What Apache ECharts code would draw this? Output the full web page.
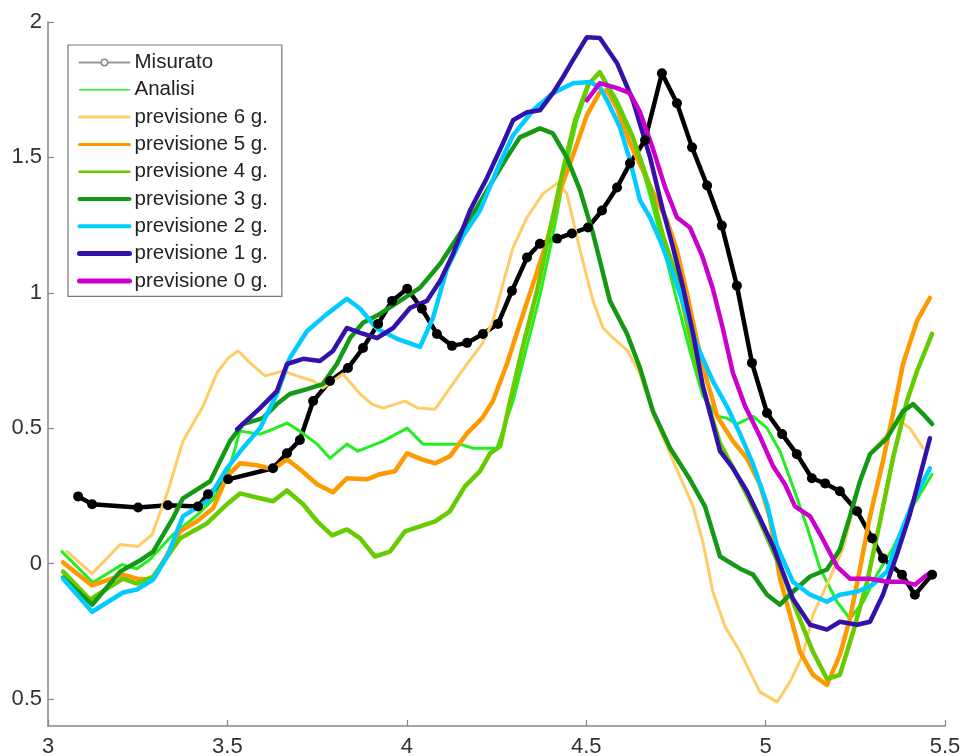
<!DOCTYPE html>
<html>
<head>
<meta charset="utf-8">
<script src="https://cdn.jsdelivr.net/npm/echarts@6/dist/echarts.min.js"></script>
<style>html,body{margin:0;padding:0;background:#fff}#c{width:969px;height:756px}</style>
</head>
<body>
<div id="c"></div>
<script>
const seriesNames = ['Misurato','Analisi','previsione 6 g.','previsione 5 g.','previsione 4 g.','previsione 3 g.','previsione 2 g.','previsione 1 g.','previsione 0 g.'];
const xTicks = [3, 3.5, 4, 4.5, 5, 5.5];
const yTicks = [-0.5, 0, 0.5, 1, 1.5, 2];

const misurato = [[3.084,0.248],[3.123,0.219],[3.251,0.207],[3.334,0.215],[3.418,0.211],[3.446,0.256],[3.502,0.311],[3.627,0.352],[3.666,0.407],[3.702,0.456],[3.739,0.600],[3.786,0.674],[3.836,0.722],[3.878,0.796],[3.920,0.885],[3.959,0.970],[4.001,1.015],[4.042,0.941],[4.084,0.848],[4.126,0.804],[4.168,0.815],[4.212,0.848],[4.254,0.885],[4.293,1.007],[4.335,1.130],[4.371,1.181],[4.419,1.200],[4.460,1.219],[4.505,1.241],[4.544,1.304],[4.586,1.389],[4.622,1.478],[4.664,1.563],[4.711,1.811],[4.753,1.700],[4.795,1.537],[4.837,1.396],[4.878,1.248],[4.920,1.026],[4.962,0.741],[5.004,0.556],[5.046,0.478],[5.087,0.404],[5.129,0.315],[5.166,0.296],[5.207,0.267],[5.255,0.193],[5.297,0.093],[5.327,0.019],[5.380,-0.041],[5.416,-0.115],[5.464,-0.041]];

const analisi = [[3.039,0.044],[3.125,-0.070],[3.206,-0.004],[3.248,-0.019],[3.284,0.015],[3.348,0.107],[3.415,0.178],[3.460,0.237],[3.499,0.322],[3.535,0.489],[3.591,0.478],[3.627,0.496],[3.666,0.519],[3.702,0.489],[3.750,0.441],[3.786,0.389],[3.833,0.441],[3.864,0.415],[3.934,0.452],[4.001,0.500],[4.045,0.441],[4.101,0.441],[4.148,0.441],[4.185,0.426],[4.251,0.426],[4.296,0.600],[4.335,0.804],[4.371,0.989],[4.407,1.211],[4.441,1.452],[4.474,1.637],[4.511,1.778],[4.538,1.815],[4.586,1.711],[4.630,1.581],[4.678,1.359],[4.714,1.174],[4.753,0.970],[4.789,0.785],[4.825,0.619],[4.865,0.544],[4.892,0.537],[4.920,0.515],[4.965,0.544],[5.004,0.500],[5.040,0.415],[5.076,0.285],[5.115,0.137],[5.152,-0.019],[5.199,-0.141],[5.235,-0.204],[5.272,-0.141],[5.310,-0.041],[5.355,0.056],[5.402,0.193],[5.464,0.330]];

const prev6 = [[3.053,0.044],[3.123,-0.037],[3.201,0.070],[3.251,0.063],[3.290,0.107],[3.334,0.267],[3.376,0.452],[3.432,0.581],[3.471,0.704],[3.502,0.759],[3.530,0.785],[3.563,0.741],[3.605,0.693],[3.655,0.711],[3.694,0.693],[3.739,0.674],[3.766,0.648],[3.822,0.700],[3.870,0.626],[3.903,0.589],[3.934,0.574],[3.995,0.600],[4.031,0.574],[4.079,0.570],[4.120,0.648],[4.168,0.737],[4.210,0.811],[4.240,0.896],[4.268,1.033],[4.296,1.167],[4.335,1.278],[4.380,1.367],[4.419,1.404],[4.446,1.367],[4.483,1.156],[4.519,0.970],[4.547,0.870],[4.575,0.833],[4.616,0.785],[4.650,0.700],[4.686,0.552],[4.725,0.433],[4.761,0.322],[4.798,0.211],[4.825,0.081],[4.853,-0.104],[4.887,-0.233],[4.929,-0.326],[4.984,-0.474],[5.032,-0.511],[5.068,-0.437],[5.104,-0.337],[5.132,-0.189],[5.171,-0.078],[5.216,0.056],[5.263,0.304],[5.291,0.404],[5.338,0.478],[5.375,0.526],[5.402,0.500],[5.439,0.426]];

const prev5 = [[3.042,0.004],[3.123,-0.081],[3.209,-0.041],[3.248,-0.056],[3.293,-0.059],[3.332,0.033],[3.368,0.119],[3.415,0.156],[3.460,0.204],[3.499,0.322],[3.535,0.370],[3.582,0.363],[3.627,0.348],[3.666,0.385],[3.702,0.348],[3.750,0.293],[3.794,0.263],[3.833,0.315],[3.889,0.311],[3.925,0.330],[3.967,0.341],[4.001,0.407],[4.042,0.385],[4.079,0.370],[4.120,0.396],[4.168,0.481],[4.210,0.537],[4.240,0.600],[4.279,0.737],[4.315,0.885],[4.352,1.033],[4.391,1.193],[4.427,1.378],[4.463,1.507],[4.502,1.656],[4.538,1.741],[4.558,1.748],[4.586,1.681],[4.622,1.552],[4.658,1.452],[4.697,1.341],[4.725,1.267],[4.753,1.156],[4.781,0.996],[4.809,0.822],[4.837,0.674],[4.865,0.544],[4.909,0.452],[4.948,0.389],[4.984,0.293],[5.012,0.167],[5.040,-0.056],[5.068,-0.189],[5.096,-0.326],[5.132,-0.411],[5.171,-0.448],[5.207,-0.337],[5.235,-0.204],[5.263,-0.019],[5.291,0.174],[5.327,0.378],[5.355,0.552],[5.383,0.737],[5.422,0.896],[5.458,0.981]];

const prev4 = [[3.042,-0.030],[3.117,-0.133],[3.209,-0.056],[3.248,-0.074],[3.293,-0.048],[3.368,0.093],[3.443,0.148],[3.499,0.219],[3.535,0.259],[3.591,0.241],[3.627,0.230],[3.666,0.270],[3.711,0.219],[3.750,0.156],[3.792,0.104],[3.833,0.126],[3.870,0.093],[3.911,0.026],[3.953,0.044],[3.995,0.119],[4.037,0.137],[4.079,0.156],[4.120,0.193],[4.162,0.285],[4.204,0.341],[4.232,0.407],[4.260,0.433],[4.288,0.600],[4.324,0.804],[4.363,1.007],[4.399,1.230],[4.435,1.452],[4.469,1.637],[4.505,1.767],[4.538,1.815],[4.586,1.700],[4.630,1.574],[4.678,1.389],[4.714,1.211],[4.753,1.056],[4.789,0.841],[4.825,0.648],[4.873,0.444],[4.929,0.304],[4.984,0.156],[5.040,-0.011],[5.087,-0.178],[5.132,-0.326],[5.171,-0.426],[5.207,-0.411],[5.244,-0.252],[5.283,-0.067],[5.319,0.156],[5.355,0.389],[5.394,0.600],[5.422,0.711],[5.464,0.848]];

const prev3 = [[3.042,-0.052],[3.123,-0.152],[3.201,-0.030],[3.256,0.011],[3.293,0.044],[3.348,0.167],[3.376,0.241],[3.452,0.304],[3.507,0.452],[3.543,0.515],[3.599,0.537],[3.638,0.589],[3.674,0.626],[3.722,0.644],[3.766,0.663],[3.805,0.737],[3.842,0.833],[3.878,0.889],[3.925,0.922],[3.981,0.970],[4.037,1.019],[4.093,1.107],[4.148,1.219],[4.196,1.315],[4.240,1.415],[4.279,1.500],[4.315,1.574],[4.371,1.607],[4.407,1.589],[4.446,1.500],[4.483,1.378],[4.519,1.219],[4.538,1.119],[4.566,0.970],[4.614,0.848],[4.650,0.722],[4.686,0.563],[4.734,0.426],[4.789,0.311],[4.831,0.211],[4.873,0.026],[4.929,-0.019],[4.965,-0.041],[5.004,-0.115],[5.040,-0.152],[5.076,-0.104],[5.124,-0.048],[5.171,-0.022],[5.207,0.052],[5.235,0.174],[5.263,0.304],[5.291,0.404],[5.338,0.463],[5.383,0.563],[5.411,0.589],[5.439,0.552],[5.464,0.515]];

const prev2 = [[3.042,-0.056],[3.123,-0.178],[3.209,-0.107],[3.248,-0.096],[3.293,-0.059],[3.332,0.026],[3.376,0.174],[3.443,0.230],[3.499,0.352],[3.543,0.426],[3.591,0.500],[3.638,0.626],[3.674,0.759],[3.722,0.859],[3.778,0.922],[3.833,0.978],[3.870,0.941],[3.917,0.867],[3.973,0.830],[4.037,0.800],[4.073,0.907],[4.112,1.089],[4.157,1.211],[4.204,1.304],[4.260,1.481],[4.296,1.581],[4.352,1.674],[4.407,1.737],[4.463,1.774],[4.511,1.778],[4.538,1.759],[4.558,1.711],[4.594,1.611],[4.622,1.489],[4.650,1.341],[4.678,1.278],[4.706,1.193],[4.742,1.070],[4.781,0.922],[4.809,0.804],[4.853,0.674],[4.892,0.581],[4.929,0.478],[4.965,0.367],[5.004,0.219],[5.032,0.063],[5.076,-0.067],[5.124,-0.115],[5.171,-0.141],[5.207,-0.115],[5.255,-0.104],[5.299,-0.078],[5.338,-0.030],[5.375,0.107],[5.411,0.230],[5.458,0.352]];

const prev1 = [[3.527,0.496],[3.591,0.574],[3.638,0.637],[3.666,0.737],[3.711,0.756],[3.758,0.748],[3.794,0.785],[3.833,0.870],[3.870,0.852],[3.917,0.833],[3.962,0.870],[4.009,0.944],[4.056,0.970],[4.093,1.044],[4.129,1.144],[4.176,1.304],[4.224,1.426],[4.268,1.552],[4.296,1.637],[4.335,1.667],[4.371,1.674],[4.407,1.737],[4.435,1.796],[4.463,1.859],[4.502,1.944],[4.538,1.941],[4.586,1.848],[4.630,1.711],[4.678,1.500],[4.714,1.304],[4.742,1.167],[4.770,1.019],[4.798,0.848],[4.825,0.656],[4.873,0.415],[4.909,0.352],[4.948,0.267],[4.984,0.167],[5.021,0.063],[5.076,-0.130],[5.124,-0.226],[5.171,-0.244],[5.207,-0.215],[5.255,-0.226],[5.291,-0.215],[5.327,-0.115],[5.366,0.033],[5.402,0.181],[5.458,0.463]];

const prev0 = [[4.502,1.711],[4.538,1.774],[4.586,1.756],[4.622,1.737],[4.650,1.667],[4.683,1.544],[4.720,1.389],[4.753,1.278],[4.789,1.241],[4.823,1.137],[4.853,1.015],[4.881,0.867],[4.909,0.704],[4.943,0.581],[4.984,0.470],[5.021,0.359],[5.054,0.293],[5.082,0.211],[5.124,0.174],[5.160,0.089],[5.199,-0.011],[5.235,-0.056],[5.291,-0.056],[5.338,-0.067],[5.383,-0.067],[5.416,-0.078],[5.450,-0.041],[5.467,-0.037]];

const seriesData = [misurato, analisi, prev6, prev5, prev4, prev3, prev2, prev1, prev0];
const colors = ['#000000','#22ee22','#ffcc66','#ff9900','#66cc00','#149914','#00ccff','#3311aa','#cc00cc'];
const widths = [4.5, 3, 3, 4.5, 4.5, 4.5, 4.5, 4.5, 4.5];
const legendWidths = [2, 1.5, 3, 3, 2.5, 4, 4, 5, 5];

const FONT = '"Liberation Sans", Arial, Helvetica, sans-serif';

const series = seriesNames.map((name, i) => ({
  name: name,
  type: 'line',
  data: seriesData[i],
  symbol: i === 0 ? 'circle' : 'none',
  symbolSize: 10,
  showSymbol: i === 0,
  itemStyle: { color: colors[i] },
  lineStyle: { color: colors[i], width: widths[i], cap: 'round', join: 'round' },
  emphasis: { disabled: true },
  animation: false
}));

const legendData = seriesNames.map((name, i) => {
  if (i === 0) {
    return { name: name, itemStyle: { color: '#ffffff', borderColor: '#888', borderWidth: 1.5 }, lineStyle: { color: '#999', width: 2 } };
  }
  return { name: name, itemStyle: { opacity: 0 }, lineStyle: { width: legendWidths[i] } };
});

const chart = echarts.init(document.getElementById('c'), null, { renderer: 'canvas' });
chart.setOption({
  backgroundColor: '#ffffff',
  animation: false,
  grid: { left: 48, right: 24, top: 22, bottom: 30, containLabel: false, outerBoundsMode: 'none' },
  legend: {
    data: legendData,
    orient: 'vertical',
    left: 68,
    top: 45,
    padding: [7, 14, 5, 9],
    itemWidth: 50,
    itemHeight: 8,
    itemGap: 6.3,
    backgroundColor: '#ffffff',
    borderColor: '#777777',
    borderWidth: 1.2,
    selectedMode: false,
    textStyle: { fontFamily: FONT, fontSize: 20.5, color: '#222', lineHeight: 20 }
  },
  xAxis: {
    type: 'value',
    min: 3,
    max: 5.5,
    interval: 0.5,
    splitLine: { show: false },
    axisLine: { show: true, onZero: false, lineStyle: { color: '#888', width: 1.5 } },
    axisTick: { show: true, inside: true, length: 6, lineStyle: { color: '#888', width: 1.2 } },
    axisLabel: { fontFamily: FONT, fontSize: 22, color: '#333', margin: 10,
      formatter: v => xTicks.includes(v) ? String(v) : '' }
  },
  yAxis: {
    type: 'value',
    min: -0.6,
    max: 2,
    splitLine: { show: false },
    axisLine: { show: true, onZero: false, lineStyle: { color: '#888', width: 1.5 } },
    axisTick: { show: true, inside: true, length: 6, lineStyle: { color: '#888', width: 1.2 }, customValues: yTicks },
    axisLabel: { fontFamily: FONT, fontSize: 22, color: '#333', margin: 6, customValues: yTicks,
      formatter: v => (v < 0 ? String(-v) : String(v)) }
  },
  series: series
});
</script>
</body>
</html>
